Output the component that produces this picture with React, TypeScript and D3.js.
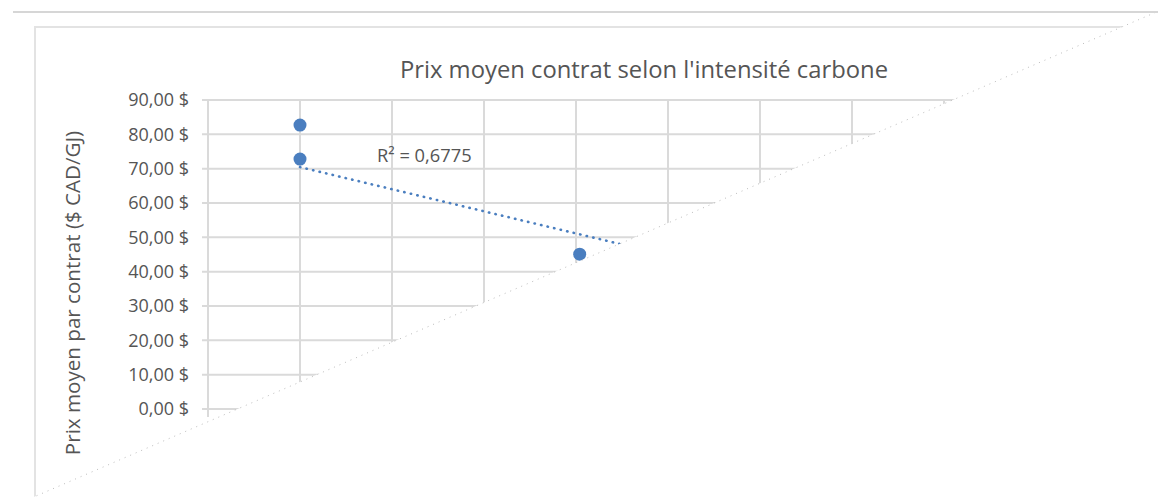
import React, { useRef, useEffect } from "react";
import * as d3 from "d3";

// visible scatter points (x = intensité carbone, y = prix moyen $ CAD/GJ)
const pointX = [10, 10, 40.4];
const pointY = [82.7, 72.8, 45.1];

// trendline
const trendRange = [10, 80];
const trendCoef = { intercept: 76.9, slope: -0.644 };
const rSquared = "R² = 0,6775";

const yTicks = [0, 10, 20, 30, 40, 50, 60, 70, 80, 90];
const xTicks = [0, 10, 20, 30, 40, 50, 60, 70, 80];

const title = "Prix moyen contrat selon l'intensité carbone";
const yTitle = "Prix moyen par contrat ($ CAD/GJ)";

const W = 1158;
const H = 497;
const FONT = "'Open Sans', sans-serif";
const TEXT = "#555555";
const GRID = "#dadada";
const BLUE = "#4a7ebf";

const fmt = (v: number) => v.toFixed(2).replace(".", ",") + " $";

export default function App() {
  const svgRef = useRef<SVGSVGElement>(null);

  useEffect(() => {
    const svg = d3.select(svgRef.current);
    svg.selectAll("*").remove();

    const x = d3.scaleLinear().domain([0, 80]).range([208, 944]);
    const y = d3.scaleLinear().domain([0, 90]).range([409, 100]);

    // chart frame
    svg
      .append("rect")
      .attr("x", 35)
      .attr("y", 27)
      .attr("width", 1400)
      .attr("height", 700)
      .attr("fill", "white")
      .attr("stroke", "#e3e3e3")
      .attr("stroke-width", 2);

    // title
    svg
      .append("text")
      .attr("x", 644)
      .attr("y", 78)
      .attr("text-anchor", "middle")
      .attr("font-family", FONT)
      .attr("font-size", 23.8)
      .attr("fill", TEXT)
      .text(title);

    const plot = svg.append("g");

    // horizontal gridlines
    plot
      .selectAll(".hgrid")
      .data(yTicks)
      .enter()
      .append("line")
      .attr("class", "hgrid")
      .attr("x1", 202)
      .attr("x2", x(80) + 20)
      .attr("y1", d => y(d))
      .attr("y2", d => y(d))
      .attr("stroke", GRID)
      .attr("stroke-width", 2);

    // vertical gridlines
    plot
      .selectAll(".vgrid")
      .data(xTicks)
      .enter()
      .append("line")
      .attr("class", "vgrid")
      .attr("x1", d => x(d))
      .attr("x2", d => x(d))
      .attr("y1", y(90))
      .attr("y2", d => (d === 0 ? y(0) + 8 : y(0)))
      .attr("stroke", GRID)
      .attr("stroke-width", 2);

    // y tick labels
    plot
      .selectAll(".ylab")
      .data(yTicks)
      .enter()
      .append("text")
      .attr("class", "ylab")
      .attr("x", 189)
      .attr("y", d => y(d))
      .attr("dy", "0.36em")
      .attr("text-anchor", "end")
      .attr("font-family", FONT)
      .attr("font-size", 18)
      .attr("fill", TEXT)
      .text(d => fmt(d));

    // y axis title
    svg
      .append("text")
      .attr("transform", `translate(80, 293) rotate(-90)`)
      .attr("text-anchor", "middle")
      .attr("font-family", FONT)
      .attr("font-size", 20.6)
      .attr("fill", TEXT)
      .text(yTitle);

    // trendline
    const line = d3
      .line<number>()
      .x(d => x(d))
      .y(d => y(trendCoef.intercept + trendCoef.slope * d));
    plot
      .append("path")
      .attr("d", line(trendRange) as string)
      .attr("fill", "none")
      .attr("stroke", BLUE)
      .attr("stroke-width", 2.6)
      .attr("stroke-linecap", "round")
      .attr("stroke-dasharray", "0.4 6.3");

    // points
    plot
      .selectAll(".pt")
      .data(pointX.map((d, i) => [d, pointY[i]]))
      .enter()
      .append("circle")
      .attr("class", "pt")
      .attr("cx", d => x(d[0]))
      .attr("cy", d => y(d[1]))
      .attr("r", 6.5)
      .attr("fill", BLUE);

    // R² label
    plot
      .append("text")
      .attr("x", 377)
      .attr("y", 162)
      .attr("font-family", FONT)
      .attr("font-size", 18.3)
      .attr("fill", TEXT)
      .text(rSquared);

    // torn-off corner of the screenshot
    const cut = (px: number) => 493 - 0.432 * (px - 43);
    svg
      .append("polygon")
      .attr("points", `20,${cut(20)} ${W},${cut(W)} ${W},${H + 5} 20,${H + 5}`)
      .attr("fill", "white");
    svg
      .append("line")
      .attr("x1", 20)
      .attr("y1", cut(20))
      .attr("x2", W)
      .attr("y2", cut(W))
      .attr("stroke", "#bdbdbd")
      .attr("stroke-width", 1)
      .attr("stroke-dasharray", "1 5");

    // outer top rule
    svg
      .append("line")
      .attr("x1", 13)
      .attr("x2", W)
      .attr("y1", 12)
      .attr("y2", 12)
      .attr("stroke", "#d6d6d6")
      .attr("stroke-width", 2);
  }, []);

  return (
    <svg
      ref={svgRef}
      width={W}
      height={H}
      style={{ position: "absolute", left: 0, top: 0, background: "white" }}
    />
  );
}
